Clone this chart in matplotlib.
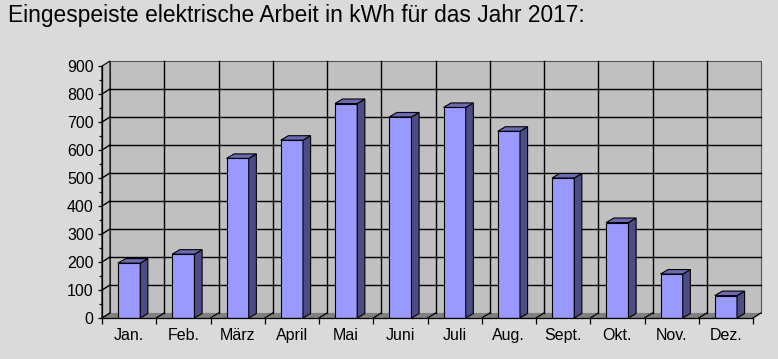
import numpy as np
import matplotlib
matplotlib.use("Agg")
import matplotlib.pyplot as plt
from matplotlib.patches import Polygon, Rectangle

# ---------------- Data ----------------
months = ["Jan.", "Feb.", "März", "April", "Mai", "Juni", "Juli",
          "Aug.", "Sept.", "Okt.", "Nov.", "Dez."]
kwh = [196, 228, 570, 635, 766, 718, 752, 667, 500, 341, 157, 80]
y_ticks = list(range(0, 1000, 100))
title = "Eingespeiste elektrische Arbeit in kWh für das Jahr 2017:"

# ---------------- Style ----------------
BG = "#dadada"
WALL = "#c0c0c0"
FLOOR = "#808080"
FRONT = "#9999ff"
TOP = "#6b6bb5"
SIDE = "#4d4d85"
W, H = 778, 359

plt.rcParams["font.family"] = ["Liberation Sans", "DejaVu Sans"]

fig = plt.figure(figsize=(W / 100, H / 100), dpi=100, facecolor=BG)
ax = fig.add_axes([102 / W, (H - 318) / H, (753 - 102) / W, (318 - 66) / H])
ax.set_xlim(0, len(months))
ax.set_ylim(0, 900)
ax.patch.set_visible(False)

# depth offset of the 3D look (data units, ~8 px right / 5 px up)
dx = 8 / ((753 - 102) / len(months))
dy = 5 / ((318 - 66) / 900)
n = len(months)
ymax = y_ticks[-1]

# back wall + left side wall
ax.add_patch(Rectangle((dx, dy), n, ymax, facecolor=WALL, edgecolor="#555555",
                       lw=0.8, clip_on=False, zorder=0.5))
ax.add_patch(Polygon([(0, 0), (dx, dy), (dx, ymax + dy), (0, ymax)],
                     closed=True, facecolor=WALL, edgecolor="black", lw=0.8,
                     clip_on=False, zorder=0.6))
# floor
ax.add_patch(Polygon([(0, 0), (n, 0), (n + dx, dy), (dx, dy)], closed=True,
                     facecolor=FLOOR, edgecolor="none", clip_on=False, zorder=0.7))

# grid on back wall and side wall
for v in y_ticks[1:-1]:
    ax.plot([dx, n + dx], [v + dy, v + dy], color="black", lw=1.0, zorder=0.8, clip_on=False)
    ax.plot([0, dx], [v, v + dy], color="black", lw=1.0, zorder=0.8, clip_on=False)
for k in range(1, n):
    ax.plot([k + dx, k + dx], [dy, ymax + dy], color="black", lw=1.0, zorder=0.8, clip_on=False)
for k in range(0, n + 1):
    ax.plot([k, k + dx], [0, dy], color="black", lw=0.9, zorder=0.9, clip_on=False)

# bars
centers = np.arange(n) + 0.5
bw = 0.41
bdx, bdy = dx * 0.95, dy * 0.9
ax.bar(centers, kwh, width=bw, color=FRONT, edgecolor="black", lw=0.8, zorder=3)
for c, v in zip(centers, kwh):
    r, l = c + bw / 2, c - bw / 2
    ax.add_patch(Polygon([(r, 0), (r + bdx, bdy), (r + bdx, v + bdy), (r, v)],
                         closed=True, facecolor=SIDE, edgecolor="black", lw=0.8,
                         zorder=3, clip_on=False))
    ax.add_patch(Polygon([(l, v), (r, v), (r + bdx, v + bdy), (l + bdx, v + bdy)],
                         closed=True, facecolor=TOP, edgecolor="black", lw=0.8,
                         zorder=3, clip_on=False))

# axes
for s in ["top", "right"]:
    ax.spines[s].set_visible(False)
ax.spines["left"].set_linewidth(0.9)
ax.spines["bottom"].set_linewidth(0.9)
ax.spines["left"].set_zorder(4)
ax.spines["bottom"].set_zorder(4)

ax.set_yticks(y_ticks)
ax.set_yticklabels([str(v) for v in y_ticks], fontsize=11.5)
ax.set_yticks(np.arange(50, 900, 100), minor=True)
ax.tick_params(axis="y", which="major", length=3, width=0.9, pad=3)
ax.tick_params(axis="y", which="minor", length=2, width=0.9)

ax.set_xticks(np.arange(n + 1))
ax.set_xticklabels([""] * (n + 1))
ax.set_xticks(centers, minor=True)
ax.set_xticklabels(months, minor=True, fontsize=11.5)
ax.tick_params(axis="x", which="major", length=4, width=0.9)
ax.tick_params(axis="x", which="minor", length=0, pad=7)

fig.text(8 / W, 1 - 4 / H, title, fontsize=16.35, ha="left", va="top")

fig.savefig("out.png", dpi=100, facecolor=BG)
